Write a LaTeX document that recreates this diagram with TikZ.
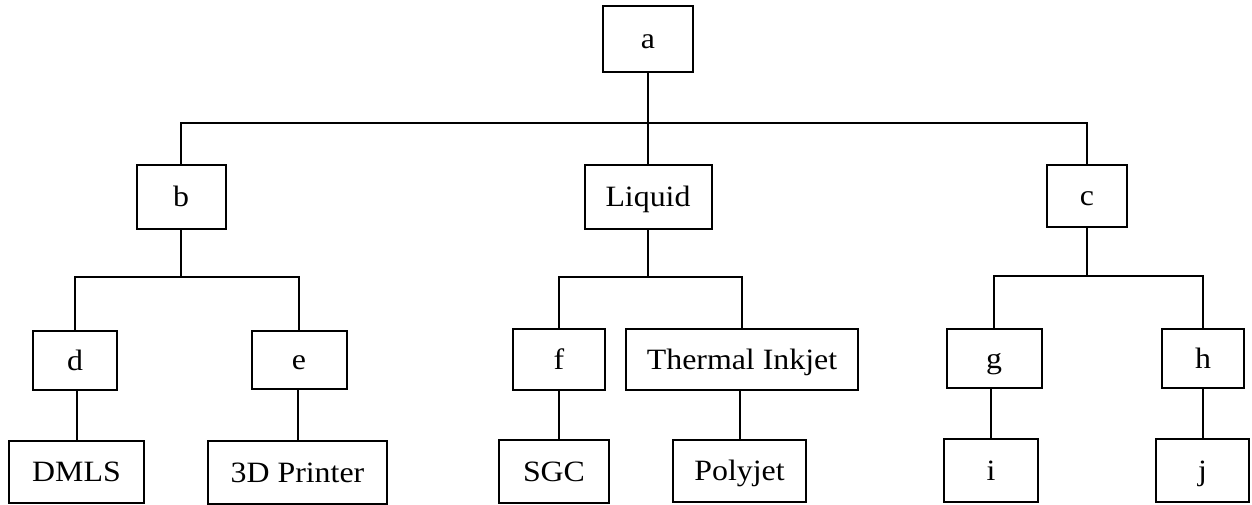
\documentclass[tikz,border=0pt]{standalone}
\usepackage{fontspec}
\setmainfont{Liberation Serif}[FakeStretch=1.08]
\begin{document}
\begin{tikzpicture}[x=1pt,y=-1pt,
  box/.style={draw, line width=2pt, inner sep=0pt, text height=19pt, text depth=0pt,
    font=\fontsize{29.5}{32}\selectfont},
  conn/.style={line width=2pt}]
\useasboundingbox (0,0) rectangle (1252,505);
% level 0
\node[box, minimum width=90pt, minimum height=66pt] (a) at (648,39) {a};
% level 1
\node[box, minimum width=89pt, minimum height=64pt] (b) at (181,197) {b};
\node[box, minimum width=127pt, minimum height=64pt] (liquid) at (648,197) {Liquid};
\node[box, minimum width=80pt, minimum height=62pt] (c) at (1087,196) {c};
% level 2
\node[box, minimum width=84pt, minimum height=59pt] (d) at (75,360.5) {d};
\node[box, minimum width=95pt, minimum height=58pt] (e) at (299,360) {e};
\node[box, minimum width=92pt, minimum height=61pt] (f) at (559,359.5) {f};
\node[box, minimum width=232pt, minimum height=61pt] (ti) at (742,359.5) {Thermal Inkjet};
\node[box, minimum width=95pt, minimum height=59pt] (g) at (994,358.5) {g};
\node[box, minimum width=82pt, minimum height=59pt] (h) at (1203,358.5) {h};
% level 3
\node[box, minimum width=135pt, minimum height=62pt] (dmls) at (76.5,472) {DMLS};
\node[box, minimum width=179pt, minimum height=63pt] (printer) at (297.5,472.5) {3D Printer};
\node[box, minimum width=110pt, minimum height=63pt] (sgc) at (554,471.5) {SGC};
\node[box, minimum width=133pt, minimum height=62pt] (polyjet) at (739.5,471) {Polyjet};
\node[box, minimum width=94pt, minimum height=63pt] (i) at (991,470.5) {i};
\node[box, minimum width=93pt, minimum height=63pt] (j) at (1202.5,470.5) {j};
% junction coordinates
\coordinate (ja) at (648,123);
\coordinate (jb) at (181,277);
\coordinate (jl) at (648,277);
\coordinate (jc) at (1087,276);
% connectors
\draw[conn] (a.south) -- (ja);
\draw[conn] (b.north) |- (ja) -| (c.north);
\draw[conn] (ja) -- (liquid.north);
\draw[conn] (b.south) -- (jb);
\draw[conn] (d.north) |- (jb) -| (e.north);
\draw[conn] (liquid.south) -- (jl);
\draw[conn] (f.north) |- (jl) -| (ti.north);
\draw[conn] (c.south) -- (jc);
\draw[conn] (g.north) |- (jc) -| (h.north);
\draw[conn] (dmls.north) -- (dmls.north |- d.south);
\draw[conn] (printer.north) -- (printer.north |- e.south);
\draw[conn] (f.south) -- (f.south |- sgc.north);
\draw[conn] (polyjet.north) -- (polyjet.north |- ti.south);
\draw[conn] (i.north) -- (i.north |- g.south);
\draw[conn] (j.north) -- (j.north |- h.south);
\end{tikzpicture}
\end{document}
